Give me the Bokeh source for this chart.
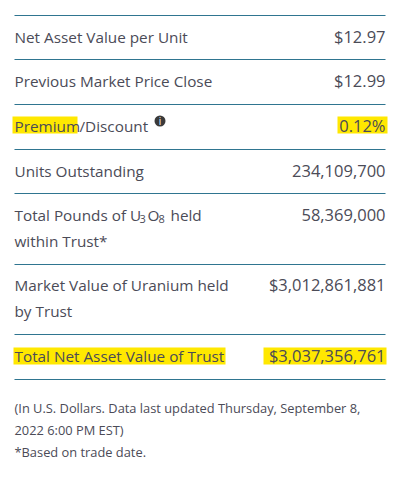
from bokeh.plotting import figure
from bokeh.models import Range1d
from bokeh.core.properties import value
from bokeh.embed import file_html
from bokeh.resources import INLINE

row_labels = ["Net Asset Value per Unit", "Previous Market Price Close", "Units Outstanding",
              "within Trust*", "Market Value of Uranium held", "by Trust",
              "Total Net Asset Value of Trust"]
row_label_y = [36, 80, 170, 240, 284, 310, 355]
row_values = ["$12.97", "$12.99", "0.12%", "234,109,700", "58,369,000", "$3,012,861,881", "$3,037,356,761"]
row_value_y = [36, 80, 125, 170, 214, 284, 355]
rule_y = [15, 59, 104, 149, 193, 264, 334, 379]
notes = ["(In U.S. Dollars. Data last updated Thursday, September 8,", "2022 6:00 PM EST)", "*Based on trade date."]
note_y = [407, 429, 451]

FONT = "Open Sans"
INK = "#4b4b57"
TEAL = "#2f7590"
YELLOW = "#ffe800"
LS = 15.3
VS = 16.5

p = figure(width=405, height=477, output_backend="svg", toolbar_location=None,
           x_range=Range1d(0, 405), y_range=Range1d(477, 0), min_border=0)
p.axis.visible = False
p.grid.visible = False
p.outline_line_color = None
p.background_fill_color = "white"

p.quad(left=[12, 337, 13, 263], right=[77, 387, 225, 386],
       top=[116, 116, 347, 347], bottom=[133, 133, 364, 364],
       fill_color=YELLOW, line_color=None)
p.segment(x0=[14] * len(rule_y), x1=[385] * len(rule_y), y0=rule_y, y1=rule_y,
          line_color=TEAL, line_width=1.2)

def txt(x, y, t, size=LS, align="left", color=INK):
    p.text(x=x, y=y, text=t, text_font=value(FONT), text_font_size=f"{size}px",
           text_color=color, text_align=align, text_baseline="middle")

txt([14] * len(row_labels), row_label_y, row_labels)
txt([385] * len(row_values), row_value_y, row_values, size=VS, align="right")

txt([14], [125], ["Premium"])
txt([79], [125], ["/Discount"])
txt([14], [214], ["Total Pounds of U"])
txt([139], [218], ["3"], size=11)
txt([147], [214], ["O"])
txt([158], [218], ["8"], size=11)
txt([170], [214], ["held"])

p.scatter(x=[159.5], y=[120.5], size=11, marker="circle", fill_color="#3a3a3a", line_color=None)
txt([159.5], [120.5], ["i"], size=10, align="center", color="white")

txt([14] * 3, note_y, notes, size=12.85)

open("out.html", "w").write(file_html(p, INLINE))
